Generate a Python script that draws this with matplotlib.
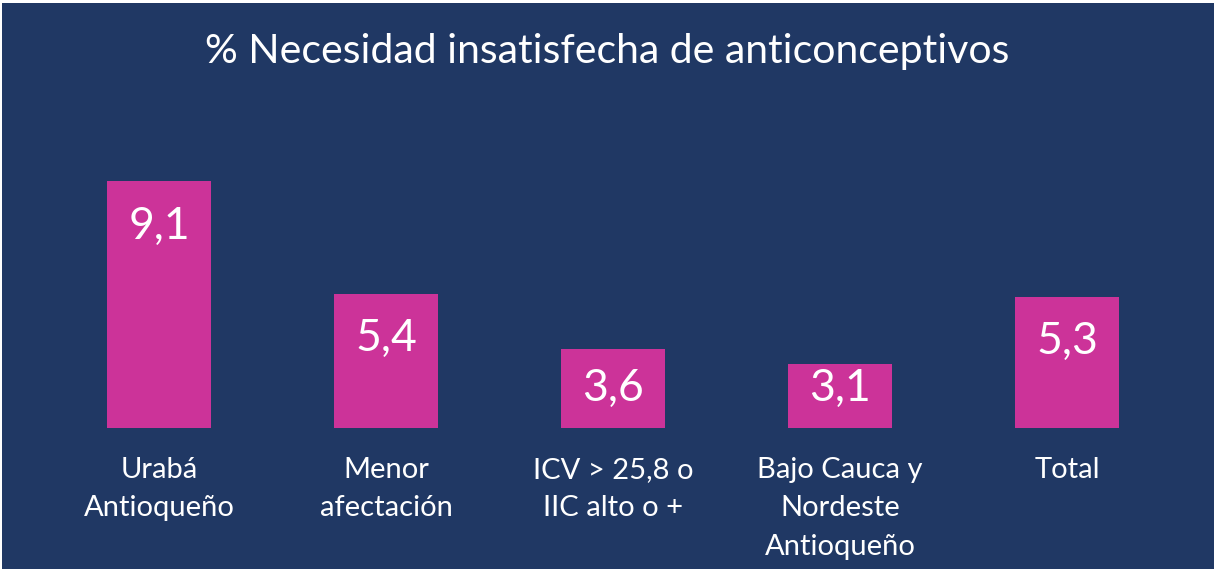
import matplotlib
matplotlib.use("Agg")
import matplotlib.pyplot as plt
from matplotlib.transforms import blended_transform_factory

categories = ["Urabá\nAntioqueño", "Menor\nafectación", "ICV > 25,8 o\nIIC alto o +",
              "Bajo Cauca y\nNordeste\nAntioqueño", "Total"]
values = [9.1, 5.4, 3.6, 3.1, 5.3]
value_labels = ["9,1", "5,4", "3,6", "3,1", "5,3"]
title = "% Necesidad insatisfecha de anticonceptivos"

BG = "#203864"
BAR = "#CC3399"
FONT = ["Lato", "DejaVu Sans"]

W, H = 1214, 569
fig = plt.figure(figsize=(W / 100, H / 100), dpi=100)
fig.patch.set_facecolor("white")
# dark panel with thin white border at top/left
fig.add_artist(plt.Rectangle((2 / W, 0), 1 - 2 / W, 1 - 3 / H, transform=fig.transFigure,
                             facecolor=BG, edgecolor="none", zorder=0))

x0, x1 = 45.5, 1180.5
ytop, ybot = 153.5, 428
ax = fig.add_axes([x0 / W, 1 - ybot / H, (x1 - x0) / W, (ybot - ytop) / H])
ax.set_facecolor("none")
xs = list(range(len(categories)))
ax.bar(xs, [v - 1 for v in values], bottom=1, width=0.455, color=BAR, zorder=2)
ax.set_xlim(-0.5, len(categories) - 0.5)
ax.set_ylim(1, 10)
for s in ax.spines.values():
    s.set_visible(False)
ax.set_xticks([])
ax.set_yticks([])

px_per_unit = (ybot - ytop) / 9.0
for x, v, lab in zip(xs, values, value_labels):
    bar_px = (v - 1) * px_per_unit
    off_px = min(45, bar_px - 40)
    ax.annotate(lab, (x, v), xytext=(0, -off_px * 0.72), textcoords="offset points",
                ha="center", va="center", color="white", fontsize=32, family=FONT)

tr = blended_transform_factory(ax.transData, ax.transAxes)
for x, c in zip(xs, categories):
    ax.annotate(c, (x, 0), xycoords=tr, xytext=(0, -21), textcoords="offset points",
                ha="center", va="top", color="white", fontsize=21, family=FONT,
                linespacing=1.58)

fig.text(0.5, 1 - 52 / H, title, ha="center", va="center", color="white",
         fontsize=29.5, family=FONT)

fig.savefig("out.png", dpi=100, facecolor=fig.get_facecolor())
